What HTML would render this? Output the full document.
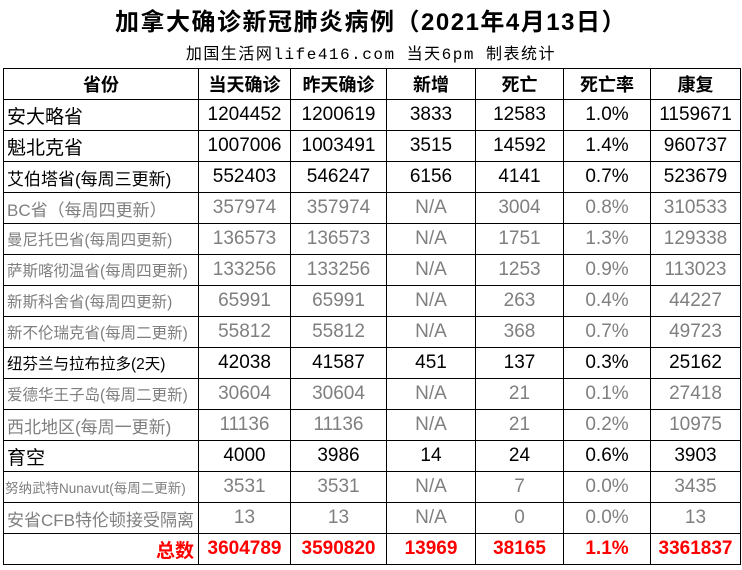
<!DOCTYPE html>
<html><head><meta charset="utf-8"><style>
body{margin:0;width:742px;height:570px;background:#fff;position:relative;overflow:hidden;font-family:"Liberation Sans","Noto Sans CJK SC",sans-serif}
.t{position:absolute;left:0;width:742px;text-align:center;top:2px;font-size:24px;font-weight:bold;letter-spacing:1.5px}
.s{position:absolute;left:0;width:742px;text-align:center;top:40px;font-size:16px;letter-spacing:1.5px;font-family:"Liberation Mono","Noto Sans CJK SC",monospace}
table{position:absolute;left:3px;top:68px;border-collapse:collapse;table-layout:fixed}
td{border:1.5px solid #000;height:30px;padding:0;text-align:center;font-size:19px;white-space:nowrap;overflow:hidden}
td.n{text-align:left;padding-left:3px;font-size:19px}
td.sm{font-size:15.5px}
tr.h td{font-weight:bold;font-size:18px}
tr.g td{color:#7f7f7f}
tr.r td{color:#f00;font-weight:bold}
</style></head><body>
<div class="t">加拿大确诊新冠肺炎病例（2021年4月13日）</div>
<div class="s">加国生活网life416.com 当天6pm 制表统计</div>
<table>
<colgroup><col style="width:195px"><col style="width:92px"><col style="width:96px"><col style="width:89px"><col style="width:88px"><col style="width:87px"><col style="width:90px"></colgroup>
<tr class="h"><td>省份</td><td>当天确诊</td><td>昨天确诊</td><td>新增</td><td>死亡</td><td>死亡率</td><td>康复</td></tr>
<tr><td class="n">安大略省</td><td>1204452</td><td>1200619</td><td>3833</td><td>12583</td><td>1.0%</td><td>1159671</td></tr>
<tr><td class="n">魁北克省</td><td>1007006</td><td>1003491</td><td>3515</td><td>14592</td><td>1.4%</td><td>960737</td></tr>
<tr><td class="n sm" style="font-size:17px">艾伯塔省(每周三更新)</td><td>552403</td><td>546247</td><td>6156</td><td>4141</td><td>0.7%</td><td>523679</td></tr>
<tr class="g"><td class="n" style="font-size:17px">BC省（每周四更新）</td><td>357974</td><td>357974</td><td>N/A</td><td>3004</td><td>0.8%</td><td>310533</td></tr>
<tr class="g"><td class="n sm">曼尼托巴省(每周四更新)</td><td>136573</td><td>136573</td><td>N/A</td><td>1751</td><td>1.3%</td><td>129338</td></tr>
<tr class="g"><td class="n sm">萨斯喀彻温省(每周四更新)</td><td>133256</td><td>133256</td><td>N/A</td><td>1253</td><td>0.9%</td><td>113023</td></tr>
<tr class="g"><td class="n sm">新斯科舍省(每周四更新)</td><td>65991</td><td>65991</td><td>N/A</td><td>263</td><td>0.4%</td><td>44227</td></tr>
<tr class="g"><td class="n sm">新不伦瑞克省(每周二更新)</td><td>55812</td><td>55812</td><td>N/A</td><td>368</td><td>0.7%</td><td>49723</td></tr>
<tr><td class="n sm">纽芬兰与拉布拉多(2天)</td><td>42038</td><td>41587</td><td>451</td><td>137</td><td>0.3%</td><td>25162</td></tr>
<tr class="g"><td class="n sm">爱德华王子岛(每周二更新)</td><td>30604</td><td>30604</td><td>N/A</td><td>21</td><td>0.1%</td><td>27418</td></tr>
<tr class="g"><td class="n" style="font-size:17px">西北地区(每周一更新)</td><td>11136</td><td>11136</td><td>N/A</td><td>21</td><td>0.2%</td><td>10975</td></tr>
<tr><td class="n">育空</td><td>4000</td><td>3986</td><td>14</td><td>24</td><td>0.6%</td><td>3903</td></tr>
<tr class="g"><td class="n" style="font-size:13.5px;padding-left:1px">努纳武特Nunavut(每周二更新)</td><td>3531</td><td>3531</td><td>N/A</td><td>7</td><td>0.0%</td><td>3435</td></tr>
<tr class="g"><td class="n" style="font-size:17px">安省CFB特伦顿接受隔离</td><td>13</td><td>13</td><td>N/A</td><td>0</td><td>0.0%</td><td>13</td></tr>
<tr class="r"><td style="text-align:right;padding-right:4px">总数</td><td>3604789</td><td>3590820</td><td>13969</td><td>38165</td><td>1.1%</td><td>3361837</td></tr>
</table>
</body></html>
